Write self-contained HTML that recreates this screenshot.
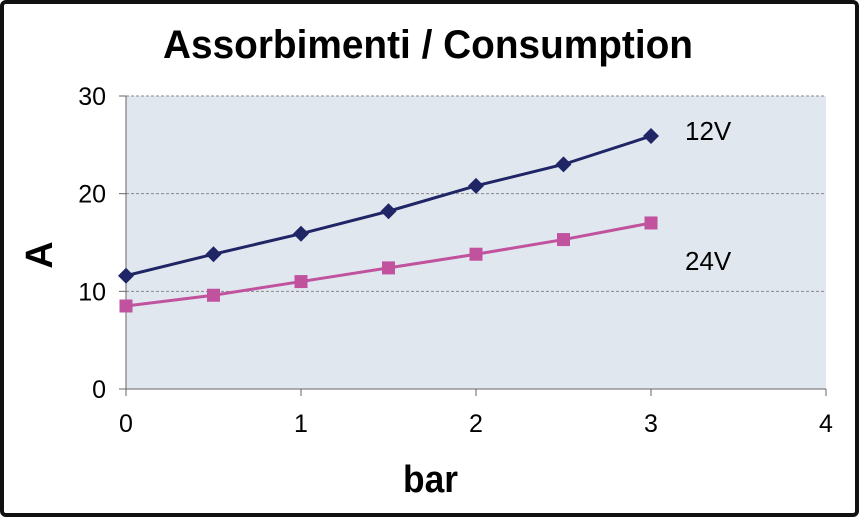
<!DOCTYPE html>
<html><head><meta charset="utf-8"><style>
body{margin:0;background:#fff;}
svg{display:block;font-family:"Liberation Sans",sans-serif;}
.cond{font-family:"Liberation Sans Narrow","Liberation Sans",sans-serif;font-weight:bold;}
</style></head><body>
<svg id="chart" width="860" height="518" viewBox="0 0 860 518">
<rect x="2" y="2" width="855" height="513" rx="4" fill="#fff" stroke="#111" stroke-width="4"/>
<text x="163" y="58" font-size="40" class="cond" fill="#000" textLength="530" lengthAdjust="spacingAndGlyphs">Assorbimenti / Consumption</text>
<rect x="126" y="96" width="700" height="293" fill="#e1e7ef"/>
<g id="grid"></g><g id="axes"></g><g id="series"></g>
<text x="403" y="492" font-size="38" class="cond" textLength="55" lengthAdjust="spacingAndGlyphs">bar</text>
<text transform="translate(52,255) rotate(-90)" text-anchor="middle" font-size="38" class="cond">A</text>
<text x="685" y="140" font-size="26">12V</text>
<text x="685" y="270" font-size="26">24V</text>
</svg>
<script>
const xValues=[0,0.5,1,1.5,2,2.5,3];
const series12V=[11.6,13.8,15.9,18.2,20.8,23.0,25.9];
const series24V=[8.5,9.6,11.0,12.4,13.8,15.3,17.0];
const xTicks=[0,1,2,3,4];
const yTicks=[0,10,20,30];
const NS='http://www.w3.org/2000/svg';
const X=v=>126+v*175, Y=v=>389-v*293/30;
function mk(t,a,p){const e=document.createElementNS(NS,t);for(const k in a)e.setAttribute(k,a[k]);p.appendChild(e);return e;}
const grid=document.getElementById('grid'),axes=document.getElementById('axes'),ser=document.getElementById('series');
yTicks.forEach(v=>{
  if(v>0){const l=mk('line',{x1:126,x2:826,y1:Y(v),y2:Y(v),stroke:'#888','stroke-dasharray':'3,2','stroke-width':1},grid);
  
  }
  const tk=mk('line',{x1:119,x2:126,y1:Y(v),y2:Y(v),stroke:'#666'},axes);
  
  
  const t=mk('text',{x:106,y:Y(v)+9,'text-anchor':'end','font-size':25},axes);t.textContent=v;
  
  
});
xTicks.forEach(v=>{
  const tk=mk('line',{x1:X(v),x2:X(v),y1:389,y2:396,stroke:'#666'},axes);
  
  
  const t=mk('text',{x:X(v),y:432,'text-anchor':'middle','font-size':25},axes);t.textContent=v;
  
  
});
const ya=mk('line',{x1:126,x2:126,y1:96,y2:389,stroke:'#666'},axes);


const xa=mk('line',{x1:126,x2:826,y1:389,y2:389,stroke:'#666'},axes);


function draw(vals,color,shape,name){
  const pl=mk('polyline',{points:vals.map((v,i)=>X(xValues[i])+','+Y(v)).join(' '),fill:'none',stroke:color,'stroke-width':3},ser);
  
  
  vals.forEach((v,i)=>{const cx=X(xValues[i]),cy=Y(v);let m;
    if(shape==='d')m=mk('polygon',{points:`${cx},${cy-8} ${cx+8},${cy} ${cx},${cy+8} ${cx-8},${cy}`,fill:color},ser);
    else m=mk('rect',{x:cx-6.5,y:cy-6.5,width:13,height:13,fill:color},ser);
    
    });
}
draw(series12V,'#1f2565','d','series-12v');
draw(series24V,'#c0529e','s','series-24v');
</script>
</body></html>
